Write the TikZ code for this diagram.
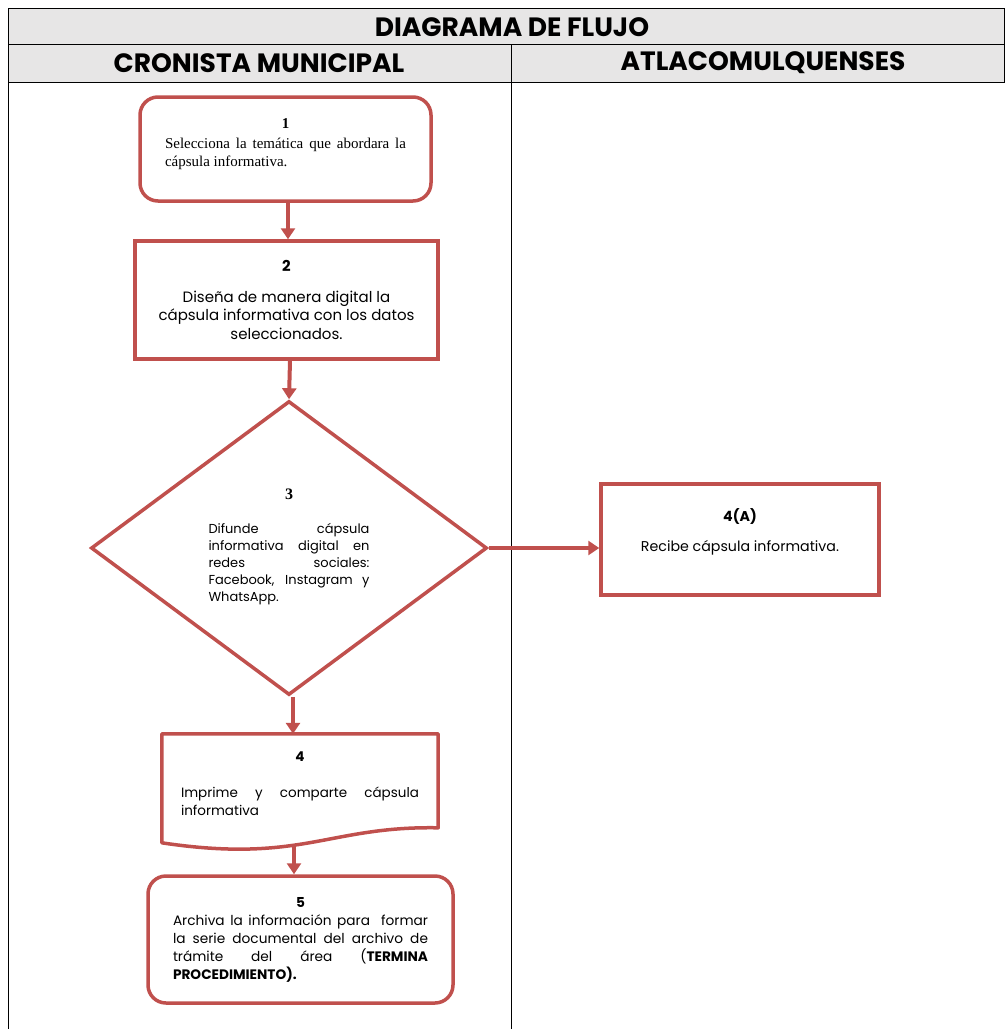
\documentclass[tikz,border=0pt]{standalone}
\usepackage{fontspec}
\setmainfont{Poppins}
\newfontfamily\timesfont{Liberation Serif}
\usepackage{tikz}
\usetikzlibrary{positioning,arrows.meta,shapes.geometric,calc}
\usepackage{xcolor}
\definecolor{flowred}{HTML}{C0504D}
\definecolor{headgray}{HTML}{E7E6E6}
\definecolor{linegray}{HTML}{000000}
\newcommand{\fulljust}{\leftskip=0pt\rightskip=0pt\parfillskip=0pt plus 1fil\relax}
\tikzset{
  headfont/.style={font=\fontsize{26.5}{29}\selectfont\bfseries}
}

\begin{document}
\begin{tikzpicture}[x=1pt,y=-1pt,
      stepbox/.style={draw=flowred,line width=3.5pt,fill=white,inner sep=0pt,
                  align=center},
      roundbox/.style={stepbox,rounded corners=18pt},
      decision/.style={draw=flowred,line width=3.5pt,fill=white,diamond,inner sep=0pt,
                  minimum width=396pt,minimum height=294pt},
      arr/.style={-{Triangle[length=11pt,width=14pt]},line width=4pt,flowred},
      grid/.style={draw=linegray,line width=0.8pt}]
    \useasboundingbox (0,0) rectangle (1005,1029);
    % header
    \fill[headgray] (8,8) rectangle (1005,82);
    \draw[grid] (8,8) -- (1005,8);
    \draw[grid] (8,44) -- (1005,44);
    \draw[grid] (8,82) -- (1005,82);
    \draw[grid] (8,8) -- (8,1029);
    \draw[grid] (1004.6,8) -- (1004.6,82);
    \draw[grid] (511,44) -- (511,1029);
    \node[headfont] (title) at (512,27.5) {DIAGRAMA DE FLUJO};
    \node[headfont] (lane1) at (259,63) {CRONISTA MUNICIPAL};
    \node[headfont] (lane2) at (763,63) {ATLACOMULQUENSES};
    % steps
    \node[roundbox,minimum width=291pt,minimum height=104pt] (b1) at (285.5,149)
      {\parbox{241pt}{\timesfont\fontsize{15}{18}\selectfont
        \centering\textbf{1}\par\vspace{2pt}
        \fulljust Selecciona la temática que abordara la\linebreak cápsula informativa.\par\vspace{10pt}}};
    \node[stepbox,minimum width=303pt,minimum height=118pt,
          font=\fontsize{15}{18.5}\selectfont] (b2) at (286.5,300)
      {\textbf{2}\\[12pt]Diseña de manera digital la\\cápsula informativa con los datos\\seleccionados.};
    \node[decision] (d3) at (289,548)
      {\parbox{161pt}{\centering{\timesfont\fontsize{16}{16}\selectfont\textbf{3}}\par\vspace{17pt}
        \fontsize{13}{17}\selectfont\fulljust
        Difunde cápsula\linebreak informativa digital en\linebreak redes sociales:\linebreak
        Facebook, Instagram y\linebreak WhatsApp.\par\vspace{2pt}}};
    \node[stepbox,minimum width=278pt,minimum height=111pt,
          font=\fontsize{14.2}{16}\selectfont] (b4a) at (740,539.5)
      {\textbf{4(A)}\\[14pt]Recibe cápsula informativa.\\[2pt]};
    \node[inner sep=0pt,minimum width=276pt,minimum height=100pt] (b4) at (300,784)
      {\parbox{238pt}{\fontsize{13.5}{18}\selectfont\centering\textbf{4}\par\vspace{18pt}
        \fulljust Imprime y comparte cápsula\linebreak informativa\par}};
    \draw[draw=flowred,line width=3.5pt,line join=round]
      (b4.north west) -- (b4.north east) -- ($(b4.north east)+(0,94)$)
      .. controls ($(b4.north east)+(-110,92)$) and ($(b4.north west)+(140,130)$) ..
      ($(b4.north west)+(0,109)$) -- cycle;
    \coordinate (b4w) at ($(b4.north)+(-6,111)$);
    \node[roundbox,minimum width=305pt,minimum height=127pt] (b5) at (300.5,939.5)
      {\parbox{255pt}{\fontsize{13.7}{18}\selectfont\centering\textbf{5}\par
        \fulljust Archiva la información para\ \ formar\linebreak la serie documental del archivo de\linebreak
        trámite del área (\textbf{TERMINA}\linebreak \textbf{PROCEDIMIENTO).}\par}};
    % connectors
    \draw[arr] ($(b1.south)+(2.5,0)$) -- ($(b2.north)+(1.5,0)$);
    \draw[arr] ($(b2.south)+(3.5,0)$) -- (d3.north);
    \draw[arr] (d3.east) -- (d3.east -| b4a.west);
    \draw[arr] ($(d3.south)+(4,0)$) -- ($(b4.north)+(-7,0)$);
    \draw[arr] (b4w) -- ($(b5.north)+(-6.5,0)$);
  \end{tikzpicture}
\end{document}
